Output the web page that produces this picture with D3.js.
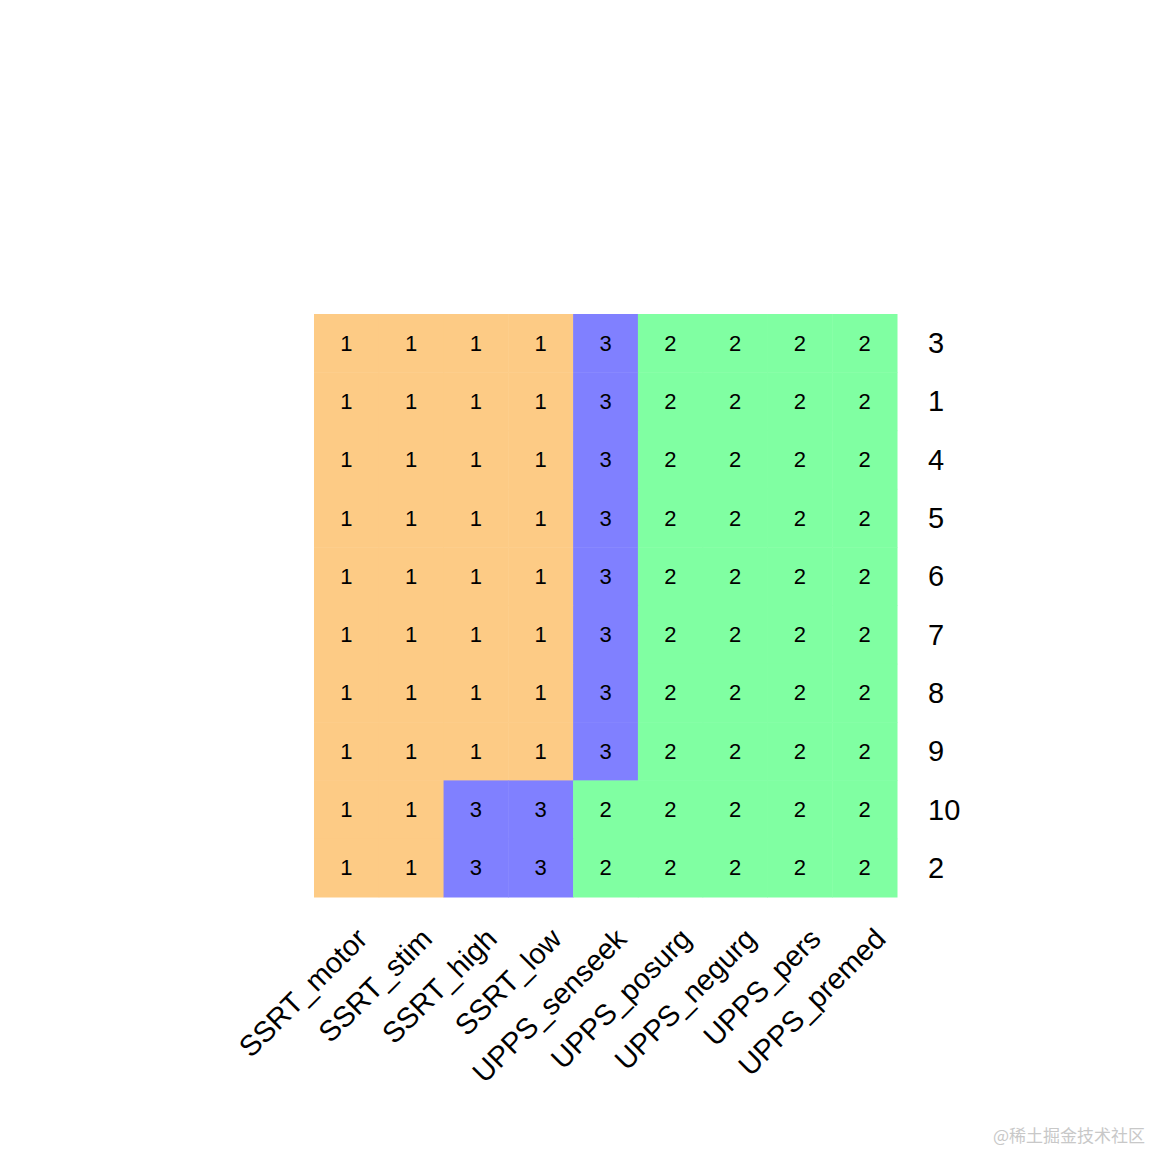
<!DOCTYPE html>
<html><head><meta charset="utf-8">
<script src="https://cdn.jsdelivr.net/npm/d3@7"></script>
<style>body{margin:0;background:#fff}</style>
</head><body>
<svg id="c" width="1152" height="1152"></svg>
<script>
const columns = ['SSRT_motor','SSRT_stim','SSRT_high','SSRT_low','UPPS_senseek','UPPS_posurg','UPPS_negurg','UPPS_pers','UPPS_premed'];
const rowLabels = ['3','1','4','5','6','7','8','9','10','2'];
const clusters = [
  [1,1,1,1,3,2,2,2,2],
  [1,1,1,1,3,2,2,2,2],
  [1,1,1,1,3,2,2,2,2],
  [1,1,1,1,3,2,2,2,2],
  [1,1,1,1,3,2,2,2,2],
  [1,1,1,1,3,2,2,2,2],
  [1,1,1,1,3,2,2,2,2],
  [1,1,1,1,3,2,2,2,2],
  [1,1,3,3,2,2,2,2,2],
  [1,1,3,3,2,2,2,2,2]
];
const palette = {1:'#fdcb85', 2:'#80ffa2', 3:'#8080ff'};

const svg = d3.select('#c');
const x = d3.scaleBand().domain(columns).range([314, 897]);
const y = d3.scaleBand().domain(rowLabels).range([314, 897]);

rowLabels.forEach((r, i) => {
  columns.forEach((c, j) => {
    const v = clusters[i][j];
    svg.append('rect').attr('x', x(c)).attr('y', y(r))
      .attr('width', x.bandwidth() + 0.5).attr('height', y.bandwidth() + 0.5)
      .attr('fill', palette[v]);
    svg.append('text').attr('x', x(c) + x.bandwidth() / 2).attr('y', y(r) + y.bandwidth() / 2)
      .attr('text-anchor', 'middle').attr('dominant-baseline', 'central')
      .attr('font-family', 'Liberation Sans, Arial, sans-serif').attr('font-size', 22)
      .text(v);
  });
  svg.append('text').attr('x', 928).attr('y', y(r) + y.bandwidth() / 2)
    .attr('dominant-baseline', 'central')
    .attr('font-family', 'Liberation Sans, Arial, sans-serif').attr('font-size', 29)
    .text(r);
});

columns.forEach(c => {
  const cx = x(c) + x.bandwidth() / 2 + 8;
  svg.append('text').attr('transform', `translate(${cx},926) rotate(-45)`)
    .attr('text-anchor', 'end').attr('dominant-baseline', 'hanging')
    .attr('font-family', 'Liberation Sans, Arial, sans-serif').attr('font-size', 29)
    .text(c);
});

svg.append('text').attr('x', 1145).attr('y', 1142).attr('text-anchor', 'end')
  .attr('font-family', 'Noto Sans CJK SC, sans-serif').attr('font-size', 17)
  .attr('fill', '#c8c8c8').text('@稀土掘金技术社区');
</script>
</body></html>
